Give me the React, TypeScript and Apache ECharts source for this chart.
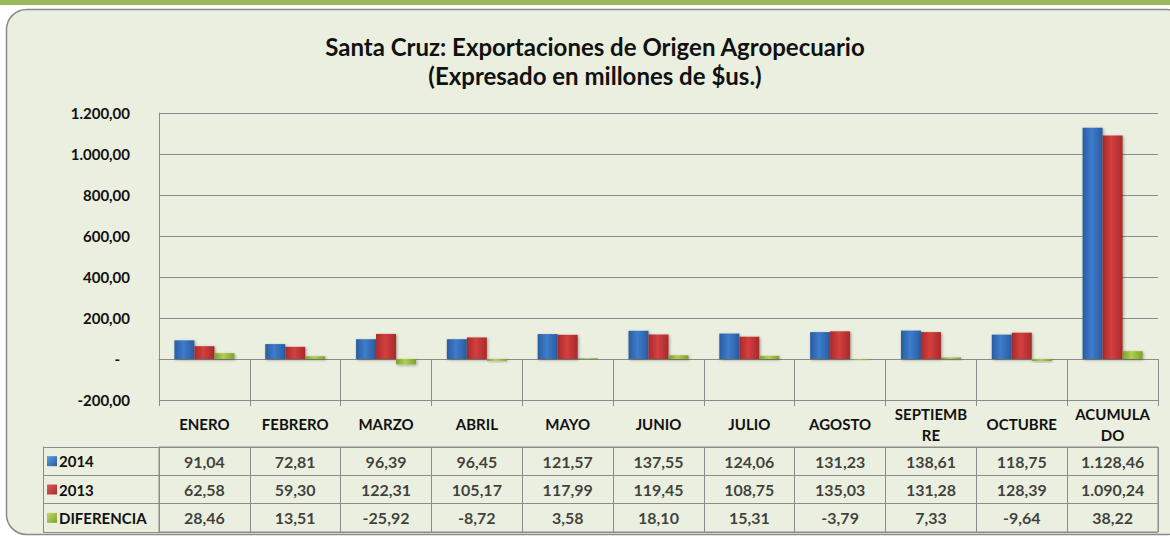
import React, { useEffect, useRef } from "react";
import * as echarts from "echarts";

const categories = [
  "ENERO", "FEBRERO", "MARZO", "ABRIL", "MAYO", "JUNIO", "JULIO",
  "AGOSTO", "SEPTIEMB\nRE", "OCTUBRE", "ACUMULA\nDO",
];
const rowNames = ["2014", "2013", "DIFERENCIA"];
const values2014 = [91.04, 72.81, 96.39, 96.45, 121.57, 137.55, 124.06, 131.23, 138.61, 118.75, 1128.46];
const values2013 = [62.58, 59.3, 122.31, 105.17, 117.99, 119.45, 108.75, 135.03, 131.28, 128.39, 1090.24];
const valuesDif = [28.46, 13.51, -25.92, -8.72, 3.58, 18.1, 15.31, -3.79, 7.33, -9.64, 38.22];
const yTicks = { min: -200, max: 1200, interval: 200 };

const FONT = "Lato, 'Open Sans', sans-serif";

function fmt(v: number): string {
  const neg = v < 0;
  const [i, d] = Math.abs(v).toFixed(2).split(".");
  const ii = i.replace(/\B(?=(\d{3})+(?!\d))/g, ".");
  return (neg ? "-" : "") + ii + "," + d;
}

function grad(edge: string, mid: string) {
  return new echarts.graphic.LinearGradient(0, 0, 1, 0, [
    { offset: 0, color: edge },
    { offset: 0.45, color: mid },
    { offset: 1, color: edge },
  ]);
}

function iconGrad(light: string, dark: string) {
  return new echarts.graphic.LinearGradient(0, 0, 1, 1, [
    { offset: 0, color: light },
    { offset: 1, color: dark },
  ]);
}

const BLUE = grad("#2a5c9f", "#3d7ccc");
const RED = grad("#a82a2a", "#d43f3f");
const GREEN = grad("#7f9f2e", "#aed04e");

export default function App() {
  const ref = useRef<HTMLDivElement>(null);
  useEffect(() => {
    document.body.style.margin = "0";
    const chart = echarts.init(ref.current!, undefined, { renderer: "svg" });
    const seriesVals = [values2014, values2013, valuesDif];
    const tableData: any[] = [];
    seriesVals.forEach((arr, r) => {
      arr.forEach((v, c) => tableData.push([c, r, v]));
    });
    const grayLine = { color: "#8c8c8c", width: 1 };
    const barShadow = { shadowColor: "rgba(0,0,0,0.35)", shadowBlur: 3, shadowOffsetX: 1, shadowOffsetY: 1 };
    chart.setOption({
      animation: false,
      backgroundColor: "#ffffff",
      graphic: [
        {
          type: "rect",
          shape: { x: 0, y: 0, width: 1170, height: 5 },
          style: { fill: "#9bbb59" },
          silent: true,
          z: -10,
        },
        {
          type: "rect",
          shape: { x: 6.5, y: 9.5, width: 1180, height: 525, r: 20 },
          style: { fill: "#ebefdf", stroke: "#8a8a8a", lineWidth: 1.5 },
          silent: true,
          z: -10,
        },
      ],
      title: {
        text: "Santa Cruz: Exportaciones de Origen Agropecuario\n(Expresado en millones de $us.)",
        left: 590,
        top: 27,
        textAlign: "center",
        textStyle: {
          fontFamily: FONT,
          fontWeight: "bold",
          fontSize: 24,
          lineHeight: 29,
          color: "#111",
        },
      },
      grid: [
        { left: 159, top: 113, width: 999, height: 287 },
        {
          left: 159, top: 447, width: 999, height: 85,
          show: true, borderColor: "#8c8c8c", borderWidth: 1,
          backgroundColor: "transparent",
        },
      ],
      xAxis: [
        {
          type: "category",
          gridIndex: 0,
          data: categories,
          position: "bottom",
          axisLine: { show: true, lineStyle: grayLine },
          axisTick: { show: true, length: 47, interval: 0, lineStyle: grayLine },
          axisLabel: {
            interval: 0,
            margin: 24,
            verticalAlign: "middle",
            fontFamily: FONT,
            fontWeight: "bold",
            fontSize: 15,
            lineHeight: 21,
            color: "#111",
          },
          splitLine: { show: false },
        },
        {
          type: "category",
          gridIndex: 1,
          data: categories,
          axisLine: { show: false },
          axisTick: { show: false },
          axisLabel: { show: false },
          splitLine: { show: true, interval: 0, lineStyle: grayLine },
        },
      ],
      yAxis: [
        {
          type: "value",
          gridIndex: 0,
          min: yTicks.min,
          max: yTicks.max,
          interval: yTicks.interval,
          axisLine: { show: true, lineStyle: grayLine },
          axisTick: { show: false },
          splitLine: { show: true, lineStyle: grayLine },
          axisLabel: {
            margin: 29,
            fontFamily: FONT,
            fontWeight: "bold",
            fontSize: 15,
            color: "#111",
            formatter: (v: number) => (v === 0 ? "{z|-}" : fmt(v)),
            rich: {
              z: { padding: [0, 10, 0, 0], fontFamily: FONT, fontWeight: "bold", fontSize: 15, color: "#111" },
            },
          },
        },
        {
          type: "category",
          gridIndex: 1,
          data: rowNames,
          inverse: true,
          axisLine: { show: true, lineStyle: grayLine },
          axisTick: { show: true, length: 116, interval: 0, lineStyle: grayLine },
          splitLine: { show: true, interval: 0, lineStyle: grayLine },
          axisLabel: {
            margin: 112,
            align: "left",
            formatter: (v: string, i: number) => `{i${i}|}{t|${v}}`,
            rich: {
              i0: { width: 10, height: 10, backgroundColor: iconGrad("#5b9be0", "#2a5c9f") },
              i1: { width: 10, height: 10, backgroundColor: iconGrad("#e05b5b", "#a82a2a") },
              i2: { width: 10, height: 10, backgroundColor: iconGrad("#bfdc6a", "#7f9f2e") },
              t: { fontFamily: FONT, fontWeight: "bold", fontSize: 15, color: "#111", padding: [0, 0, 0, 2] },
            },
          },
        },
        {
          type: "category",
          gridIndex: 1,
          data: rowNames,
          position: "left",
          offset: 116,
          axisLine: { show: true, lineStyle: grayLine },
          axisTick: { show: false },
          axisLabel: { show: false },
          splitLine: { show: false },
        },
      ],
      series: [
        {
          name: "2014", type: "bar", xAxisIndex: 0, yAxisIndex: 0,
          data: values2014, barWidth: 20, barGap: "0%",
          itemStyle: { color: BLUE, ...barShadow },
        },
        {
          name: "2013", type: "bar", xAxisIndex: 0, yAxisIndex: 0,
          data: values2013, barWidth: 20, barGap: "0%",
          itemStyle: { color: RED, ...barShadow },
        },
        {
          name: "DIFERENCIA", type: "bar", xAxisIndex: 0, yAxisIndex: 0,
          data: valuesDif, barWidth: 20, barGap: "0%",
          itemStyle: { color: GREEN, ...barShadow },
        },
        {
          type: "scatter",
          xAxisIndex: 1,
          yAxisIndex: 1,
          data: tableData,
          symbolSize: 1,
          itemStyle: { color: "transparent" },
          silent: true,
          label: {
            show: true,
            position: "inside",
            formatter: (p: any) => fmt(p.value[2]),
            fontFamily: FONT,
            fontWeight: "bold",
            fontSize: 16,
            color: "#111",
          },
        },
      ],
    });
    return () => chart.dispose();
  }, []);
  return <div ref={ref} style={{ width: 1170, height: 537 }} />;
}
